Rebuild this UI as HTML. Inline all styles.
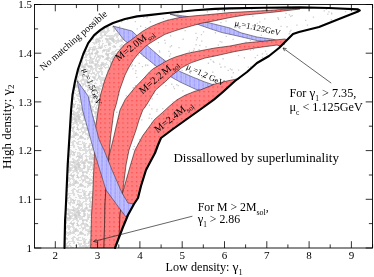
<!DOCTYPE html>
<html><head><meta charset="utf-8"><title>plot</title>
<style>
html,body{margin:0;padding:0;background:#fff;}
svg{display:block;font-family:"Liberation Serif",serif;will-change:transform;}
.tk{font-size:11px;}
.al{font-size:11.6px;}
text{fill:#000;}
</style></head><body>
<svg width="374" height="277" viewBox="0 0 374 277">
<rect width="374" height="277" fill="#fff"/>
<defs><pattern id="pg" width="48" height="48" patternUnits="userSpaceOnUse"><rect width="48" height="48" fill="#fbfbfb"/><path d="M0 0h6v1h-6zM12 0h3v1h-3zM24 0h2v1h-2zM29 0h5v1h-5zM35 0h3v1h-3zM41 0h2v1h-2zM44 0h4v1h-4zM0 1h1v1h-1zM7 1h8v1h-8zM20 1h7v1h-7zM35 1h3v1h-3zM40 1h8v1h-8zM0 2h2v1h-2zM6 2h8v1h-8zM19 2h2v1h-2zM25 2h2v1h-2zM29 2h2v1h-2zM35 2h3v1h-3zM40 2h2v1h-2zM44 2h3v1h-3zM0 3h3v1h-3zM6 3h3v1h-3zM10 3h4v1h-4zM16 3h4v1h-4zM21 3h2v1h-2zM25 3h2v1h-2zM30 3h4v1h-4zM35 3h7v1h-7zM44 3h1v1h-1zM0 4h3v1h-3zM6 4h1v1h-1zM10 4h1v1h-1zM15 4h4v1h-4zM21 4h1v1h-1zM30 4h4v1h-4zM36 4h2v1h-2zM41 4h1v1h-1zM43 4h2v1h-2zM47 4h1v1h-1zM0 5h2v1h-2zM9 5h14v1h-14zM27 5h2v1h-2zM31 5h2v1h-2zM34 5h5v1h-5zM40 5h5v1h-5zM46 5h2v1h-2zM0 6h2v1h-2zM9 6h4v1h-4zM15 6h6v1h-6zM22 6h2v1h-2zM31 6h14v1h-14zM47 6h1v1h-1zM1 7h6v1h-6zM10 7h3v1h-3zM17 7h3v1h-3zM22 7h4v1h-4zM27 7h1v1h-1zM37 7h3v1h-3zM41 7h2v1h-2zM47 7h1v1h-1zM1 8h7v1h-7zM11 8h2v1h-2zM16 8h5v1h-5zM22 8h6v1h-6zM29 8h3v1h-3zM37 8h2v1h-2zM41 8h2v1h-2zM46 8h2v1h-2zM0 9h5v1h-5zM6 9h2v1h-2zM10 9h4v1h-4zM15 9h5v1h-5zM22 9h2v1h-2zM25 9h2v1h-2zM29 9h4v1h-4zM35 9h4v1h-4zM41 9h3v1h-3zM46 9h1v1h-1zM0 10h1v1h-1zM3 10h2v1h-2zM9 10h9v1h-9zM20 10h7v1h-7zM29 10h1v1h-1zM31 10h2v1h-2zM34 10h2v1h-2zM42 10h5v1h-5zM0 11h1v1h-1zM2 11h2v1h-2zM8 11h5v1h-5zM14 11h4v1h-4zM20 11h3v1h-3zM24 11h3v1h-3zM29 11h6v1h-6zM37 11h2v1h-2zM41 11h5v1h-5zM47 11h1v1h-1zM0 12h4v1h-4zM11 12h4v1h-4zM21 12h2v1h-2zM28 12h7v1h-7zM37 12h8v1h-8zM47 12h1v1h-1zM0 13h3v1h-3zM13 13h4v1h-4zM22 13h1v1h-1zM28 13h1v1h-1zM30 13h5v1h-5zM38 13h1v1h-1zM41 13h5v1h-5zM47 13h1v1h-1zM1 14h2v1h-2zM5 14h3v1h-3zM10 14h1v1h-1zM14 14h4v1h-4zM24 14h2v1h-2zM30 14h5v1h-5zM38 14h1v1h-1zM41 14h5v1h-5zM0 15h2v1h-2zM5 15h6v1h-6zM14 15h4v1h-4zM24 15h3v1h-3zM29 15h3v1h-3zM34 15h1v1h-1zM37 15h3v1h-3zM41 15h7v1h-7zM0 16h3v1h-3zM4 16h8v1h-8zM14 16h3v1h-3zM18 16h3v1h-3zM25 16h7v1h-7zM33 16h2v1h-2zM36 16h4v1h-4zM46 16h2v1h-2zM0 17h10v1h-10zM12 17h1v1h-1zM14 17h17v1h-17zM32 17h12v1h-12zM46 17h2v1h-2zM0 18h6v1h-6zM7 18h2v1h-2zM12 18h1v1h-1zM16 18h22v1h-22zM39 18h6v1h-6zM47 18h1v1h-1zM0 19h2v1h-2zM4 19h3v1h-3zM8 19h6v1h-6zM16 19h2v1h-2zM20 19h3v1h-3zM25 19h7v1h-7zM33 19h5v1h-5zM40 19h5v1h-5zM47 19h1v1h-1zM0 20h1v1h-1zM2 20h5v1h-5zM9 20h1v1h-1zM12 20h7v1h-7zM20 20h5v1h-5zM26 20h7v1h-7zM35 20h2v1h-2zM42 20h6v1h-6zM0 21h1v1h-1zM3 21h3v1h-3zM12 21h21v1h-21zM35 21h3v1h-3zM39 21h1v1h-1zM42 21h4v1h-4zM47 21h1v1h-1zM0 22h1v1h-1zM4 22h2v1h-2zM11 22h6v1h-6zM18 22h4v1h-4zM24 22h8v1h-8zM35 22h3v1h-3zM39 22h4v1h-4zM44 22h1v1h-1zM47 22h1v1h-1zM0 23h7v1h-7zM11 23h5v1h-5zM20 23h13v1h-13zM35 23h3v1h-3zM39 23h4v1h-4zM44 23h1v1h-1zM1 24h3v1h-3zM5 24h2v1h-2zM12 24h4v1h-4zM18 24h1v1h-1zM21 24h4v1h-4zM26 24h11v1h-11zM39 24h3v1h-3zM44 24h3v1h-3zM0 25h3v1h-3zM5 25h2v1h-2zM17 25h7v1h-7zM26 25h9v1h-9zM39 25h8v1h-8zM0 26h1v1h-1zM2 26h1v1h-1zM5 26h2v1h-2zM10 26h2v1h-2zM16 26h14v1h-14zM31 26h4v1h-4zM39 26h2v1h-2zM43 26h1v1h-1zM46 26h2v1h-2zM0 27h1v1h-1zM2 27h2v1h-2zM10 27h3v1h-3zM16 27h7v1h-7zM25 27h5v1h-5zM31 27h10v1h-10zM47 27h1v1h-1zM2 28h3v1h-3zM10 28h3v1h-3zM17 28h5v1h-5zM24 28h2v1h-2zM28 28h3v1h-3zM34 28h6v1h-6zM42 28h1v1h-1zM44 28h4v1h-4zM2 29h7v1h-7zM11 29h2v1h-2zM17 29h2v1h-2zM23 29h1v1h-1zM29 29h2v1h-2zM34 29h2v1h-2zM38 29h2v1h-2zM44 29h4v1h-4zM1 30h8v1h-8zM11 30h3v1h-3zM17 30h2v1h-2zM22 30h2v1h-2zM25 30h2v1h-2zM29 30h1v1h-1zM34 30h2v1h-2zM41 30h1v1h-1zM45 30h3v1h-3zM0 31h2v1h-2zM3 31h10v1h-10zM17 31h2v1h-2zM21 31h6v1h-6zM28 31h2v1h-2zM33 31h6v1h-6zM46 31h2v1h-2zM0 32h2v1h-2zM4 32h8v1h-8zM23 32h3v1h-3zM29 32h2v1h-2zM32 32h8v1h-8zM43 32h4v1h-4zM4 33h2v1h-2zM8 33h3v1h-3zM19 33h3v1h-3zM24 33h2v1h-2zM28 33h6v1h-6zM36 33h5v1h-5zM44 33h1v1h-1zM4 34h2v1h-2zM8 34h2v1h-2zM18 34h8v1h-8zM30 34h1v1h-1zM33 34h1v1h-1zM36 34h7v1h-7zM44 34h1v1h-1zM47 34h1v1h-1zM0 35h1v1h-1zM4 35h19v1h-19zM24 35h3v1h-3zM33 35h5v1h-5zM41 35h3v1h-3zM46 35h2v1h-2zM5 36h2v1h-2zM10 36h9v1h-9zM20 36h2v1h-2zM25 36h4v1h-4zM31 36h2v1h-2zM34 36h4v1h-4zM41 36h4v1h-4zM3 37h4v1h-4zM13 37h5v1h-5zM20 37h2v1h-2zM25 37h5v1h-5zM34 37h2v1h-2zM37 37h5v1h-5zM44 37h2v1h-2zM0 38h6v1h-6zM9 38h9v1h-9zM22 38h1v1h-1zM25 38h6v1h-6zM34 38h1v1h-1zM37 38h9v1h-9zM0 39h4v1h-4zM9 39h10v1h-10zM21 39h2v1h-2zM24 39h7v1h-7zM32 39h2v1h-2zM39 39h7v1h-7zM47 39h1v1h-1zM0 40h5v1h-5zM6 40h1v1h-1zM10 40h3v1h-3zM15 40h12v1h-12zM31 40h4v1h-4zM40 40h3v1h-3zM47 40h1v1h-1zM0 41h5v1h-5zM6 41h1v1h-1zM10 41h4v1h-4zM16 41h11v1h-11zM31 41h5v1h-5zM39 41h4v1h-4zM47 41h1v1h-1zM0 42h4v1h-4zM10 42h5v1h-5zM17 42h2v1h-2zM20 42h3v1h-3zM27 42h1v1h-1zM30 42h8v1h-8zM39 42h2v1h-2zM44 42h4v1h-4zM0 43h1v1h-1zM3 43h1v1h-1zM6 43h2v1h-2zM12 43h4v1h-4zM19 43h2v1h-2zM29 43h2v1h-2zM36 43h2v1h-2zM39 43h1v1h-1zM45 43h3v1h-3zM2 44h2v1h-2zM6 44h1v1h-1zM12 44h3v1h-3zM25 44h2v1h-2zM46 44h1v1h-1zM3 45h1v1h-1zM5 45h2v1h-2zM8 45h3v1h-3zM12 45h3v1h-3zM17 45h2v1h-2zM24 45h4v1h-4zM30 45h3v1h-3zM34 45h1v1h-1zM2 46h5v1h-5zM8 46h1v1h-1zM16 46h4v1h-4zM23 46h3v1h-3zM28 46h3v1h-3zM34 46h3v1h-3zM45 46h3v1h-3zM2 47h5v1h-5zM9 47h1v1h-1zM13 47h2v1h-2zM17 47h3v1h-3zM24 47h2v1h-2zM28 47h3v1h-3zM34 47h5v1h-5zM41 47h7v1h-7z" fill="#dedede"/><path d="M4 0h1v1h-1zM36 1h1v1h-1zM41 1h1v1h-1zM44 1h1v1h-1zM45 1h1v1h-1zM46 1h1v1h-1zM7 2h1v1h-1zM8 2h1v1h-1zM12 2h1v1h-1zM36 2h1v1h-1zM40 2h1v1h-1zM41 2h1v1h-1zM1 3h1v1h-1zM12 3h1v1h-1zM40 3h1v1h-1zM0 4h1v1h-1zM1 4h1v1h-1zM0 5h1v1h-1zM10 5h1v1h-1zM41 5h1v1h-1zM43 5h1v1h-1zM44 5h1v1h-1zM47 5h1v1h-1zM10 6h1v1h-1zM11 6h1v1h-1zM12 6h1v1h-1zM19 6h1v1h-1zM11 7h1v1h-1zM12 7h1v1h-1zM24 7h1v1h-1zM2 8h1v1h-1zM6 8h1v1h-1zM7 8h1v1h-1zM17 8h1v1h-1zM25 8h1v1h-1zM26 8h1v1h-1zM11 9h1v1h-1zM12 9h1v1h-1zM16 9h1v1h-1zM17 9h1v1h-1zM25 9h1v1h-1zM42 9h1v1h-1zM10 10h1v1h-1zM11 10h1v1h-1zM12 10h1v1h-1zM16 10h1v1h-1zM22 10h1v1h-1zM26 10h1v1h-1zM42 10h1v1h-1zM10 11h1v1h-1zM11 11h1v1h-1zM29 12h1v1h-1zM30 12h1v1h-1zM31 12h1v1h-1zM33 12h1v1h-1zM1 13h1v1h-1zM14 13h1v1h-1zM31 13h1v1h-1zM32 13h1v1h-1zM44 13h1v1h-1zM1 14h1v1h-1zM14 14h1v1h-1zM15 14h1v1h-1zM41 14h1v1h-1zM43 14h1v1h-1zM44 14h1v1h-1zM6 15h1v1h-1zM14 15h1v1h-1zM15 15h1v1h-1zM38 15h1v1h-1zM0 16h1v1h-1zM5 16h1v1h-1zM6 16h1v1h-1zM7 16h1v1h-1zM14 16h1v1h-1zM15 16h1v1h-1zM29 16h1v1h-1zM37 16h1v1h-1zM38 16h1v1h-1zM47 16h1v1h-1zM5 17h1v1h-1zM16 17h1v1h-1zM20 17h1v1h-1zM25 17h1v1h-1zM47 17h1v1h-1zM16 18h1v1h-1zM17 18h1v1h-1zM24 18h1v1h-1zM25 18h1v1h-1zM26 18h1v1h-1zM30 18h1v1h-1zM34 18h1v1h-1zM35 18h1v1h-1zM36 18h1v1h-1zM40 18h1v1h-1zM41 18h1v1h-1zM42 18h1v1h-1zM43 18h1v1h-1zM29 19h1v1h-1zM30 19h1v1h-1zM35 19h1v1h-1zM36 19h1v1h-1zM43 19h1v1h-1zM3 20h1v1h-1zM4 20h1v1h-1zM5 20h1v1h-1zM17 20h1v1h-1zM28 20h1v1h-1zM29 20h1v1h-1zM30 20h1v1h-1zM31 20h1v1h-1zM17 21h1v1h-1zM18 21h1v1h-1zM20 21h1v1h-1zM30 21h1v1h-1zM31 21h1v1h-1zM36 21h1v1h-1zM20 22h1v1h-1zM26 22h1v1h-1zM27 22h1v1h-1zM30 22h1v1h-1zM31 22h1v1h-1zM36 22h1v1h-1zM12 23h1v1h-1zM13 23h1v1h-1zM21 23h1v1h-1zM26 23h1v1h-1zM27 23h1v1h-1zM28 23h1v1h-1zM30 23h1v1h-1zM31 23h1v1h-1zM36 23h1v1h-1zM21 24h1v1h-1zM22 24h1v1h-1zM27 24h1v1h-1zM28 24h1v1h-1zM35 24h1v1h-1zM36 24h1v1h-1zM18 25h1v1h-1zM21 25h1v1h-1zM22 25h1v1h-1zM27 25h1v1h-1zM28 25h1v1h-1zM40 25h1v1h-1zM45 25h1v1h-1zM19 26h1v1h-1zM20 26h1v1h-1zM21 26h1v1h-1zM22 26h1v1h-1zM28 26h1v1h-1zM10 27h1v1h-1zM11 27h1v1h-1zM3 28h1v1h-1zM34 28h1v1h-1zM35 28h1v1h-1zM38 28h1v1h-1zM2 29h1v1h-1zM45 29h1v1h-1zM46 29h1v1h-1zM18 30h1v1h-1zM46 30h1v1h-1zM22 31h1v1h-1zM23 31h1v1h-1zM24 31h1v1h-1zM25 31h1v1h-1zM29 31h1v1h-1zM34 31h1v1h-1zM35 31h1v1h-1zM24 32h1v1h-1zM25 32h1v1h-1zM29 32h1v1h-1zM38 32h1v1h-1zM39 32h1v1h-1zM29 33h1v1h-1zM30 33h1v1h-1zM39 33h1v1h-1zM8 34h1v1h-1zM9 34h1v1h-1zM35 36h1v1h-1zM27 37h1v1h-1zM28 37h1v1h-1zM9 38h1v1h-1zM10 38h1v1h-1zM13 38h1v1h-1zM14 38h1v1h-1zM15 38h1v1h-1zM16 38h1v1h-1zM17 38h1v1h-1zM27 38h1v1h-1zM28 38h1v1h-1zM44 38h1v1h-1zM0 39h1v1h-1zM1 39h1v1h-1zM2 39h1v1h-1zM10 39h1v1h-1zM11 39h1v1h-1zM14 39h1v1h-1zM15 39h1v1h-1zM16 39h1v1h-1zM17 39h1v1h-1zM26 39h1v1h-1zM27 39h1v1h-1zM40 39h1v1h-1zM41 39h1v1h-1zM42 39h1v1h-1zM43 39h1v1h-1zM2 40h1v1h-1zM3 40h1v1h-1zM11 40h1v1h-1zM16 40h1v1h-1zM17 40h1v1h-1zM22 40h1v1h-1zM25 40h1v1h-1zM32 40h1v1h-1zM33 40h1v1h-1zM0 41h1v1h-1zM2 41h1v1h-1zM17 41h1v1h-1zM32 41h1v1h-1zM33 41h1v1h-1zM34 41h1v1h-1zM0 42h1v1h-1zM12 43h1v1h-1zM13 43h1v1h-1zM12 44h1v1h-1zM13 44h1v1h-1zM18 46h1v1h-1zM19 46h1v1h-1zM3 47h1v1h-1zM4 47h1v1h-1zM5 47h1v1h-1z" fill="#d0d0d0"/></pattern><clipPath id="cr"><polygon points="64.5,248.0 65.1,220.0 65.7,210.0 67.7,165.0 71.1,110.0 72.5,95.0 75.1,81.0 78.1,69.0 83.3,54.0 88.2,43.1 94.2,35.1 100.2,30.1 105.0,27.0 113.0,23.0 125.0,19.0 137.0,16.4 151.0,14.9 165.0,13.3 180.0,11.7 195.0,10.3 215.0,8.9 230.0,8.4 265.0,7.8 300.0,7.4 329.0,8.0 358.0,9.4 359.8,10.4 358.0,11.6 339.0,19.0 319.0,27.0 299.0,32.0 293.0,34.0 287.0,40.0 279.0,48.0 269.0,56.0 257.0,63.0 247.0,72.0 235.0,81.0 222.6,92.2 214.2,99.4 201.0,109.0 187.0,119.0 173.0,129.0 161.0,138.0 158.0,145.0 155.0,153.0 150.2,162.0 146.0,170.0 141.0,186.0 138.0,198.0 134.0,204.0 128.0,215.0 123.0,227.0 118.0,240.0 115.0,248.0"/></clipPath><clipPath id="cd"><polygon points="64.5,248.0 65.1,220.0 65.7,210.0 67.7,165.0 71.1,110.0 72.5,95.0 75.1,81.0 78.1,69.0 83.3,54.0 88.2,43.1 94.2,35.1 100.2,30.1 105.0,27.0 113.0,23.0 113.0,26.0 124.0,40.0 124.5,44.6 118.3,51.8 113.5,59.0 110.6,66.0 107.5,73.0 104.5,81.0 100.5,95.0 98.2,110.0 95.2,130.0 94.5,150.0 94.0,165.0 92.5,200.0 91.5,215.0 90.6,248.0"/></clipPath><pattern id="pr" width="4.5" height="4.5" patternUnits="userSpaceOnUse"><rect width="4.5" height="4.5" fill="#ff8080"/><rect x="1" y="1" width="1.15" height="1.15" fill="#ff3434"/></pattern><pattern id="pb" width="4.4" height="4" patternUnits="userSpaceOnUse"><rect width="4.4" height="4" fill="#c2c2ff"/><rect x="0.4" y="0" width="0.9" height="4" fill="#b0b0ff"/><rect x="2.6" y="0" width="0.9" height="4" fill="#b4b4ff"/><rect x="0.4" y="0.5" width="0.9" height="1" fill="#6a6aff"/><rect x="0.4" y="2.5" width="0.9" height="1" fill="#8484ff"/></pattern></defs><g clip-path="url(#cr)"><path d="M157.8 42.0h1.3v1.3h-1.3zM256.6 22.7h1.3v1.3h-1.3zM221.8 94.6h1.3v1.3h-1.3zM77.5 129.3h1.3v1.3h-1.3zM71.3 111.2h1.3v1.3h-1.3zM81.1 27.2h1.3v1.3h-1.3zM188.2 207.6h1.3v1.3h-1.3zM97.4 59.7h1.3v1.3h-1.3zM249.5 237.2h1.3v1.3h-1.3zM234.3 102.2h1.3v1.3h-1.3zM354.8 16.4h1.3v1.3h-1.3zM319.3 76.0h1.3v1.3h-1.3zM103.6 33.9h1.3v1.3h-1.3zM153.2 205.0h1.3v1.3h-1.3zM114.6 147.5h1.3v1.3h-1.3zM253.0 96.2h1.3v1.3h-1.3zM225.4 20.4h1.3v1.3h-1.3zM78.0 55.5h1.3v1.3h-1.3zM265.5 109.8h1.3v1.3h-1.3zM154.9 148.5h1.3v1.3h-1.3zM196.9 78.4h1.3v1.3h-1.3zM299.9 176.3h1.3v1.3h-1.3zM133.7 145.7h1.3v1.3h-1.3zM218.6 219.4h1.3v1.3h-1.3zM280.3 75.5h1.3v1.3h-1.3zM356.0 33.9h1.3v1.3h-1.3zM186.3 190.5h1.3v1.3h-1.3zM105.9 124.8h1.3v1.3h-1.3zM71.8 168.7h1.3v1.3h-1.3zM290.9 145.4h1.3v1.3h-1.3zM324.4 81.9h1.3v1.3h-1.3zM270.0 150.6h1.3v1.3h-1.3zM235.1 116.8h1.3v1.3h-1.3zM313.7 236.4h1.3v1.3h-1.3zM203.2 167.7h1.3v1.3h-1.3zM78.3 176.9h1.3v1.3h-1.3zM255.4 248.3h1.3v1.3h-1.3zM308.2 74.7h1.3v1.3h-1.3zM176.5 168.8h1.3v1.3h-1.3zM66.8 118.1h1.3v1.3h-1.3zM110.8 33.7h1.3v1.3h-1.3zM77.8 193.2h1.3v1.3h-1.3zM99.1 65.7h1.3v1.3h-1.3zM178.1 218.5h1.3v1.3h-1.3zM84.3 115.1h1.3v1.3h-1.3zM225.9 221.4h1.3v1.3h-1.3zM307.4 216.7h1.3v1.3h-1.3zM144.1 106.7h1.3v1.3h-1.3zM168.3 221.6h1.3v1.3h-1.3zM349.2 42.0h1.3v1.3h-1.3zM113.2 61.8h1.3v1.3h-1.3zM130.5 123.8h1.3v1.3h-1.3zM237.9 69.4h1.3v1.3h-1.3zM61.2 107.6h1.3v1.3h-1.3zM171.5 143.8h1.3v1.3h-1.3zM347.8 174.2h1.3v1.3h-1.3zM215.7 156.3h1.3v1.3h-1.3zM264.2 18.2h1.3v1.3h-1.3zM331.7 196.1h1.3v1.3h-1.3zM324.1 200.5h1.3v1.3h-1.3zM178.5 102.7h1.3v1.3h-1.3zM91.3 160.4h1.3v1.3h-1.3zM78.8 21.5h1.3v1.3h-1.3zM123.0 44.8h1.3v1.3h-1.3zM162.7 17.9h1.3v1.3h-1.3zM60.1 42.1h1.3v1.3h-1.3zM90.6 94.1h1.3v1.3h-1.3zM67.7 219.2h1.3v1.3h-1.3zM245.4 41.4h1.3v1.3h-1.3zM136.2 90.1h1.3v1.3h-1.3zM170.0 35.1h1.3v1.3h-1.3zM316.4 248.3h1.3v1.3h-1.3zM200.7 123.5h1.3v1.3h-1.3zM85.9 30.0h1.3v1.3h-1.3zM163.5 69.9h1.3v1.3h-1.3zM310.3 44.6h1.3v1.3h-1.3zM67.0 238.0h1.3v1.3h-1.3zM219.5 40.9h1.3v1.3h-1.3zM224.0 11.6h1.3v1.3h-1.3zM219.5 244.7h1.3v1.3h-1.3zM320.7 175.6h1.3v1.3h-1.3zM138.9 94.8h1.3v1.3h-1.3zM110.4 194.1h1.3v1.3h-1.3zM220.8 195.9h1.3v1.3h-1.3zM159.6 59.6h1.3v1.3h-1.3zM305.1 246.3h1.3v1.3h-1.3zM317.5 202.5h1.3v1.3h-1.3zM307.1 186.3h1.3v1.3h-1.3zM128.5 131.8h1.3v1.3h-1.3zM167.4 12.1h1.3v1.3h-1.3zM68.4 73.5h1.3v1.3h-1.3zM138.3 174.7h1.3v1.3h-1.3zM348.9 114.6h1.3v1.3h-1.3zM343.0 247.1h1.3v1.3h-1.3zM348.4 94.3h1.3v1.3h-1.3zM126.6 60.6h1.3v1.3h-1.3zM119.4 55.1h1.3v1.3h-1.3zM248.5 225.6h1.3v1.3h-1.3zM313.8 122.5h1.3v1.3h-1.3zM257.2 200.9h1.3v1.3h-1.3zM85.6 166.8h1.3v1.3h-1.3zM334.8 196.7h1.3v1.3h-1.3zM286.5 122.1h1.3v1.3h-1.3zM113.9 198.3h1.3v1.3h-1.3zM160.4 201.2h1.3v1.3h-1.3zM353.4 102.0h1.3v1.3h-1.3zM181.2 237.0h1.3v1.3h-1.3zM278.9 46.7h1.3v1.3h-1.3zM98.4 42.0h1.3v1.3h-1.3zM333.3 202.6h1.3v1.3h-1.3zM104.1 207.5h1.3v1.3h-1.3zM356.1 166.0h1.3v1.3h-1.3zM165.8 139.4h1.3v1.3h-1.3zM99.6 8.5h1.3v1.3h-1.3zM353.2 164.2h1.3v1.3h-1.3zM219.0 233.7h1.3v1.3h-1.3zM191.0 218.6h1.3v1.3h-1.3zM309.5 56.7h1.3v1.3h-1.3zM136.1 76.8h1.3v1.3h-1.3zM132.6 148.7h1.3v1.3h-1.3zM138.3 107.7h1.3v1.3h-1.3zM99.6 228.0h1.3v1.3h-1.3zM166.8 117.2h1.3v1.3h-1.3zM236.2 226.6h1.3v1.3h-1.3zM187.0 229.8h1.3v1.3h-1.3zM211.5 135.3h1.3v1.3h-1.3zM218.1 9.6h1.3v1.3h-1.3zM192.9 49.9h1.3v1.3h-1.3zM61.2 200.8h1.3v1.3h-1.3zM112.0 121.0h1.3v1.3h-1.3zM279.0 141.3h1.3v1.3h-1.3zM158.4 132.0h1.3v1.3h-1.3zM227.7 197.1h1.3v1.3h-1.3zM92.0 142.3h1.3v1.3h-1.3zM135.0 72.8h1.3v1.3h-1.3zM293.2 129.4h1.3v1.3h-1.3zM229.6 191.2h1.3v1.3h-1.3zM335.6 113.6h1.3v1.3h-1.3zM245.0 128.9h1.3v1.3h-1.3zM214.7 174.7h1.3v1.3h-1.3zM196.6 135.7h1.3v1.3h-1.3zM204.4 235.7h1.3v1.3h-1.3zM271.2 219.8h1.3v1.3h-1.3zM344.5 68.6h1.3v1.3h-1.3zM229.0 236.1h1.3v1.3h-1.3zM313.7 38.6h1.3v1.3h-1.3zM96.7 113.3h1.3v1.3h-1.3zM81.9 64.0h1.3v1.3h-1.3zM82.1 169.0h1.3v1.3h-1.3zM296.7 224.8h1.3v1.3h-1.3zM106.6 180.4h1.3v1.3h-1.3zM259.4 40.0h1.3v1.3h-1.3zM326.6 242.0h1.3v1.3h-1.3zM126.3 238.4h1.3v1.3h-1.3zM180.3 124.4h1.3v1.3h-1.3zM358.9 208.9h1.3v1.3h-1.3zM108.8 110.7h1.3v1.3h-1.3zM215.7 88.1h1.3v1.3h-1.3zM119.1 83.0h1.3v1.3h-1.3zM278.1 9.8h1.3v1.3h-1.3zM227.3 112.9h1.3v1.3h-1.3zM65.5 86.2h1.3v1.3h-1.3zM248.4 130.5h1.3v1.3h-1.3zM79.4 246.3h1.3v1.3h-1.3zM298.1 243.1h1.3v1.3h-1.3zM91.6 70.1h1.3v1.3h-1.3zM72.0 195.9h1.3v1.3h-1.3zM141.7 36.7h1.3v1.3h-1.3zM187.5 228.3h1.3v1.3h-1.3zM307.3 68.4h1.3v1.3h-1.3zM105.1 230.2h1.3v1.3h-1.3zM232.3 176.6h1.3v1.3h-1.3zM87.0 19.1h1.3v1.3h-1.3zM267.8 109.2h1.3v1.3h-1.3zM81.9 234.9h1.3v1.3h-1.3zM251.6 201.4h1.3v1.3h-1.3zM85.3 214.8h1.3v1.3h-1.3zM80.1 216.4h1.3v1.3h-1.3zM197.0 88.1h1.3v1.3h-1.3zM227.0 232.0h1.3v1.3h-1.3zM140.9 36.7h1.3v1.3h-1.3zM219.1 63.4h1.3v1.3h-1.3zM93.1 44.6h1.3v1.3h-1.3zM75.2 54.4h1.3v1.3h-1.3zM154.2 79.7h1.3v1.3h-1.3zM289.4 76.0h1.3v1.3h-1.3zM211.0 48.6h1.3v1.3h-1.3zM164.8 9.4h1.3v1.3h-1.3zM135.6 8.8h1.3v1.3h-1.3zM281.4 140.0h1.3v1.3h-1.3zM117.2 121.3h1.3v1.3h-1.3zM342.3 31.0h1.3v1.3h-1.3zM307.3 110.9h1.3v1.3h-1.3zM209.5 209.5h1.3v1.3h-1.3zM178.7 129.1h1.3v1.3h-1.3zM267.7 245.7h1.3v1.3h-1.3zM163.5 208.9h1.3v1.3h-1.3zM273.4 160.8h1.3v1.3h-1.3zM182.2 90.2h1.3v1.3h-1.3zM76.4 36.8h1.3v1.3h-1.3zM81.4 186.5h1.3v1.3h-1.3zM137.2 45.0h1.3v1.3h-1.3zM85.5 211.1h1.3v1.3h-1.3zM322.9 169.3h1.3v1.3h-1.3zM145.1 64.3h1.3v1.3h-1.3zM148.5 117.6h1.3v1.3h-1.3zM107.6 114.2h1.3v1.3h-1.3zM139.5 240.6h1.3v1.3h-1.3zM353.7 139.0h1.3v1.3h-1.3zM133.8 241.6h1.3v1.3h-1.3zM153.5 92.4h1.3v1.3h-1.3zM60.3 98.5h1.3v1.3h-1.3zM203.3 128.2h1.3v1.3h-1.3zM120.7 128.7h1.3v1.3h-1.3zM61.5 69.7h1.3v1.3h-1.3zM87.1 102.9h1.3v1.3h-1.3zM72.6 10.5h1.3v1.3h-1.3zM151.9 62.0h1.3v1.3h-1.3zM236.8 134.7h1.3v1.3h-1.3zM286.7 166.1h1.3v1.3h-1.3zM276.2 220.4h1.3v1.3h-1.3zM177.6 84.9h1.3v1.3h-1.3zM357.4 41.6h1.3v1.3h-1.3zM278.7 162.6h1.3v1.3h-1.3zM73.2 209.6h1.3v1.3h-1.3zM329.4 158.7h1.3v1.3h-1.3zM281.6 204.0h1.3v1.3h-1.3zM102.1 133.3h1.3v1.3h-1.3zM212.3 209.6h1.3v1.3h-1.3zM303.0 207.5h1.3v1.3h-1.3zM236.4 223.7h1.3v1.3h-1.3zM266.2 174.9h1.3v1.3h-1.3zM129.4 12.6h1.3v1.3h-1.3zM100.2 93.4h1.3v1.3h-1.3zM91.7 209.8h1.3v1.3h-1.3zM228.7 158.8h1.3v1.3h-1.3zM249.1 171.8h1.3v1.3h-1.3zM207.8 5.8h1.3v1.3h-1.3zM300.9 188.3h1.3v1.3h-1.3zM211.9 136.1h1.3v1.3h-1.3zM259.1 21.2h1.3v1.3h-1.3zM282.5 66.8h1.3v1.3h-1.3zM82.5 70.1h1.3v1.3h-1.3zM280.3 55.3h1.3v1.3h-1.3zM283.4 244.1h1.3v1.3h-1.3zM209.2 98.7h1.3v1.3h-1.3zM204.7 172.5h1.3v1.3h-1.3zM291.6 156.2h1.3v1.3h-1.3zM254.1 24.0h1.3v1.3h-1.3zM104.5 67.2h1.3v1.3h-1.3zM284.5 79.6h1.3v1.3h-1.3zM231.5 8.1h1.3v1.3h-1.3zM78.3 70.8h1.3v1.3h-1.3zM262.9 174.6h1.3v1.3h-1.3zM264.1 76.3h1.3v1.3h-1.3zM216.0 118.8h1.3v1.3h-1.3zM200.8 34.0h1.3v1.3h-1.3zM329.9 53.8h1.3v1.3h-1.3zM355.4 234.4h1.3v1.3h-1.3zM65.3 117.4h1.3v1.3h-1.3zM307.6 242.2h1.3v1.3h-1.3zM195.7 70.8h1.3v1.3h-1.3zM123.4 236.7h1.3v1.3h-1.3zM123.6 147.5h1.3v1.3h-1.3zM102.8 133.4h1.3v1.3h-1.3zM347.7 37.5h1.3v1.3h-1.3zM307.7 129.6h1.3v1.3h-1.3zM327.8 177.3h1.3v1.3h-1.3zM129.9 224.9h1.3v1.3h-1.3zM206.8 11.1h1.3v1.3h-1.3zM61.1 125.5h1.3v1.3h-1.3zM196.1 79.0h1.3v1.3h-1.3zM102.5 89.3h1.3v1.3h-1.3zM155.5 210.9h1.3v1.3h-1.3zM60.5 188.9h1.3v1.3h-1.3zM313.4 34.4h1.3v1.3h-1.3zM339.8 179.7h1.3v1.3h-1.3zM332.3 76.0h1.3v1.3h-1.3zM172.4 101.3h1.3v1.3h-1.3zM361.6 149.3h1.3v1.3h-1.3zM168.9 109.9h1.3v1.3h-1.3zM143.1 16.8h1.3v1.3h-1.3zM90.7 209.5h1.3v1.3h-1.3zM146.3 234.2h1.3v1.3h-1.3zM135.3 70.1h1.3v1.3h-1.3zM214.3 51.5h1.3v1.3h-1.3zM172.8 239.3h1.3v1.3h-1.3zM327.0 203.9h1.3v1.3h-1.3zM250.5 228.8h1.3v1.3h-1.3zM344.1 139.6h1.3v1.3h-1.3zM277.3 17.1h1.3v1.3h-1.3zM281.2 115.5h1.3v1.3h-1.3zM287.3 162.9h1.3v1.3h-1.3zM146.4 17.0h1.3v1.3h-1.3zM339.9 36.2h1.3v1.3h-1.3zM202.6 89.2h1.3v1.3h-1.3zM149.9 186.1h1.3v1.3h-1.3zM354.8 68.7h1.3v1.3h-1.3zM258.1 78.7h1.3v1.3h-1.3zM228.3 101.6h1.3v1.3h-1.3zM110.5 44.6h1.3v1.3h-1.3zM122.8 227.0h1.3v1.3h-1.3zM210.1 58.9h1.3v1.3h-1.3zM333.7 249.1h1.3v1.3h-1.3zM195.9 39.2h1.3v1.3h-1.3zM118.1 27.2h1.3v1.3h-1.3zM163.3 27.3h1.3v1.3h-1.3zM132.2 68.3h1.3v1.3h-1.3zM232.0 222.4h1.3v1.3h-1.3zM286.4 106.1h1.3v1.3h-1.3zM185.0 133.4h1.3v1.3h-1.3zM173.8 87.9h1.3v1.3h-1.3zM78.7 73.0h1.3v1.3h-1.3zM352.2 35.8h1.3v1.3h-1.3zM212.0 159.3h1.3v1.3h-1.3zM320.6 57.9h1.3v1.3h-1.3zM141.8 65.9h1.3v1.3h-1.3zM180.7 114.2h1.3v1.3h-1.3zM348.1 212.9h1.3v1.3h-1.3zM323.6 10.3h1.3v1.3h-1.3zM69.7 178.8h1.3v1.3h-1.3zM330.5 121.0h1.3v1.3h-1.3zM237.3 5.0h1.3v1.3h-1.3zM178.2 232.1h1.3v1.3h-1.3zM309.3 214.6h1.3v1.3h-1.3zM353.6 65.9h1.3v1.3h-1.3zM92.9 42.8h1.3v1.3h-1.3zM217.8 172.1h1.3v1.3h-1.3zM344.3 181.8h1.3v1.3h-1.3zM255.5 192.4h1.3v1.3h-1.3zM198.1 140.1h1.3v1.3h-1.3zM71.9 196.7h1.3v1.3h-1.3zM130.2 230.4h1.3v1.3h-1.3zM254.9 79.4h1.3v1.3h-1.3zM98.6 66.7h1.3v1.3h-1.3zM252.2 176.2h1.3v1.3h-1.3zM93.9 22.2h1.3v1.3h-1.3zM218.4 147.8h1.3v1.3h-1.3zM177.2 59.8h1.3v1.3h-1.3zM241.5 7.6h1.3v1.3h-1.3zM151.1 117.9h1.3v1.3h-1.3zM349.6 162.9h1.3v1.3h-1.3zM326.9 121.4h1.3v1.3h-1.3zM130.9 65.5h1.3v1.3h-1.3zM350.1 177.6h1.3v1.3h-1.3zM152.8 10.3h1.3v1.3h-1.3zM210.5 170.2h1.3v1.3h-1.3zM186.8 68.0h1.3v1.3h-1.3zM261.5 231.7h1.3v1.3h-1.3zM128.5 13.4h1.3v1.3h-1.3zM162.1 108.0h1.3v1.3h-1.3zM266.1 53.5h1.3v1.3h-1.3zM300.7 186.1h1.3v1.3h-1.3zM212.5 55.3h1.3v1.3h-1.3zM352.9 81.4h1.3v1.3h-1.3zM307.6 61.5h1.3v1.3h-1.3zM126.9 191.3h1.3v1.3h-1.3zM149.1 238.2h1.3v1.3h-1.3zM209.7 50.9h1.3v1.3h-1.3zM127.4 107.2h1.3v1.3h-1.3zM260.9 237.4h1.3v1.3h-1.3zM104.2 101.4h1.3v1.3h-1.3zM124.3 243.7h1.3v1.3h-1.3zM102.9 17.7h1.3v1.3h-1.3zM78.2 101.4h1.3v1.3h-1.3zM331.2 221.5h1.3v1.3h-1.3zM281.3 249.4h1.3v1.3h-1.3zM341.3 85.7h1.3v1.3h-1.3zM116.0 234.3h1.3v1.3h-1.3zM285.4 12.8h1.3v1.3h-1.3zM260.7 97.8h1.3v1.3h-1.3zM172.9 86.3h1.3v1.3h-1.3zM111.1 5.7h1.3v1.3h-1.3zM144.5 91.1h1.3v1.3h-1.3zM348.6 35.3h1.3v1.3h-1.3zM351.2 55.8h1.3v1.3h-1.3zM167.7 206.3h1.3v1.3h-1.3zM308.2 111.0h1.3v1.3h-1.3zM74.9 121.0h1.3v1.3h-1.3zM172.6 230.3h1.3v1.3h-1.3zM118.3 94.2h1.3v1.3h-1.3zM330.9 12.4h1.3v1.3h-1.3zM184.1 203.9h1.3v1.3h-1.3zM291.5 15.0h1.3v1.3h-1.3zM70.5 20.3h1.3v1.3h-1.3zM337.9 68.0h1.3v1.3h-1.3zM285.7 225.1h1.3v1.3h-1.3zM162.4 71.7h1.3v1.3h-1.3zM349.2 156.2h1.3v1.3h-1.3zM139.2 180.6h1.3v1.3h-1.3zM155.6 72.5h1.3v1.3h-1.3zM61.1 190.1h1.3v1.3h-1.3zM336.8 160.3h1.3v1.3h-1.3zM344.9 10.9h1.3v1.3h-1.3zM130.6 121.4h1.3v1.3h-1.3zM348.9 238.7h1.3v1.3h-1.3zM176.7 66.5h1.3v1.3h-1.3zM189.8 125.9h1.3v1.3h-1.3zM340.3 49.8h1.3v1.3h-1.3zM302.4 185.9h1.3v1.3h-1.3zM308.5 194.3h1.3v1.3h-1.3zM243.4 85.3h1.3v1.3h-1.3zM156.5 93.7h1.3v1.3h-1.3zM296.2 24.4h1.3v1.3h-1.3zM119.6 189.5h1.3v1.3h-1.3zM134.7 20.9h1.3v1.3h-1.3zM70.2 140.4h1.3v1.3h-1.3zM158.4 245.2h1.3v1.3h-1.3zM326.8 247.0h1.3v1.3h-1.3zM140.0 25.6h1.3v1.3h-1.3zM89.1 127.1h1.3v1.3h-1.3zM274.4 114.5h1.3v1.3h-1.3zM130.7 107.1h1.3v1.3h-1.3zM247.3 170.2h1.3v1.3h-1.3zM285.9 212.5h1.3v1.3h-1.3zM260.7 34.7h1.3v1.3h-1.3zM313.9 77.0h1.3v1.3h-1.3zM231.2 96.4h1.3v1.3h-1.3zM282.9 53.8h1.3v1.3h-1.3zM134.7 65.1h1.3v1.3h-1.3zM106.3 221.6h1.3v1.3h-1.3zM234.6 85.0h1.3v1.3h-1.3zM179.6 248.1h1.3v1.3h-1.3zM213.2 61.7h1.3v1.3h-1.3zM304.1 165.1h1.3v1.3h-1.3zM359.3 30.1h1.3v1.3h-1.3zM203.4 205.7h1.3v1.3h-1.3zM313.8 229.0h1.3v1.3h-1.3zM72.2 77.0h1.3v1.3h-1.3zM96.0 51.4h1.3v1.3h-1.3zM353.8 147.9h1.3v1.3h-1.3zM340.9 96.2h1.3v1.3h-1.3zM321.6 115.0h1.3v1.3h-1.3zM138.5 195.6h1.3v1.3h-1.3zM345.6 30.9h1.3v1.3h-1.3zM240.0 156.9h1.3v1.3h-1.3zM125.7 95.3h1.3v1.3h-1.3zM102.7 55.0h1.3v1.3h-1.3zM137.0 151.9h1.3v1.3h-1.3zM256.8 54.8h1.3v1.3h-1.3zM63.4 85.2h1.3v1.3h-1.3zM264.9 50.4h1.3v1.3h-1.3zM154.3 54.8h1.3v1.3h-1.3zM300.2 139.3h1.3v1.3h-1.3zM79.1 29.8h1.3v1.3h-1.3zM179.4 139.8h1.3v1.3h-1.3zM253.0 27.3h1.3v1.3h-1.3zM109.4 175.4h1.3v1.3h-1.3zM183.8 74.4h1.3v1.3h-1.3zM152.9 238.5h1.3v1.3h-1.3zM154.3 143.8h1.3v1.3h-1.3zM167.9 107.0h1.3v1.3h-1.3zM321.0 249.2h1.3v1.3h-1.3zM169.9 53.3h1.3v1.3h-1.3zM279.9 54.9h1.3v1.3h-1.3zM61.8 225.9h1.3v1.3h-1.3zM188.0 206.0h1.3v1.3h-1.3zM182.7 221.3h1.3v1.3h-1.3zM199.2 44.8h1.3v1.3h-1.3zM64.5 140.1h1.3v1.3h-1.3zM253.5 227.9h1.3v1.3h-1.3zM86.9 157.4h1.3v1.3h-1.3zM172.0 128.6h1.3v1.3h-1.3zM104.1 74.4h1.3v1.3h-1.3zM217.4 231.7h1.3v1.3h-1.3zM92.9 125.2h1.3v1.3h-1.3zM303.1 241.9h1.3v1.3h-1.3zM119.6 36.0h1.3v1.3h-1.3zM344.8 244.0h1.3v1.3h-1.3zM205.8 18.1h1.3v1.3h-1.3zM339.7 100.0h1.3v1.3h-1.3zM333.1 157.0h1.3v1.3h-1.3zM309.0 44.3h1.3v1.3h-1.3zM297.3 59.4h1.3v1.3h-1.3zM182.2 212.4h1.3v1.3h-1.3zM310.4 49.8h1.3v1.3h-1.3zM125.9 102.9h1.3v1.3h-1.3zM216.4 99.0h1.3v1.3h-1.3zM97.2 65.5h1.3v1.3h-1.3zM278.9 224.8h1.3v1.3h-1.3zM72.4 142.8h1.3v1.3h-1.3zM288.8 14.3h1.3v1.3h-1.3zM313.1 33.8h1.3v1.3h-1.3zM241.1 139.8h1.3v1.3h-1.3zM249.4 80.0h1.3v1.3h-1.3zM186.9 147.7h1.3v1.3h-1.3zM188.6 166.4h1.3v1.3h-1.3zM194.9 112.4h1.3v1.3h-1.3zM67.1 156.6h1.3v1.3h-1.3zM207.8 62.6h1.3v1.3h-1.3zM290.6 196.1h1.3v1.3h-1.3zM198.4 49.0h1.3v1.3h-1.3zM202.9 31.2h1.3v1.3h-1.3zM98.8 110.5h1.3v1.3h-1.3zM87.7 113.3h1.3v1.3h-1.3zM214.1 15.0h1.3v1.3h-1.3zM252.2 25.1h1.3v1.3h-1.3zM281.5 195.5h1.3v1.3h-1.3zM214.5 18.3h1.3v1.3h-1.3zM212.2 97.6h1.3v1.3h-1.3zM347.2 38.4h1.3v1.3h-1.3zM318.8 249.1h1.3v1.3h-1.3zM281.1 204.7h1.3v1.3h-1.3zM118.5 245.5h1.3v1.3h-1.3zM208.5 239.4h1.3v1.3h-1.3zM336.6 45.5h1.3v1.3h-1.3zM298.1 233.0h1.3v1.3h-1.3zM79.8 91.0h1.3v1.3h-1.3zM288.4 43.9h1.3v1.3h-1.3zM330.8 72.4h1.3v1.3h-1.3zM306.3 40.2h1.3v1.3h-1.3zM211.7 230.4h1.3v1.3h-1.3zM122.9 69.4h1.3v1.3h-1.3zM212.8 83.2h1.3v1.3h-1.3zM71.1 49.6h1.3v1.3h-1.3zM108.7 234.4h1.3v1.3h-1.3zM265.3 224.4h1.3v1.3h-1.3zM111.0 197.3h1.3v1.3h-1.3zM94.8 135.0h1.3v1.3h-1.3zM252.2 93.1h1.3v1.3h-1.3zM323.6 141.0h1.3v1.3h-1.3zM235.2 221.2h1.3v1.3h-1.3zM91.6 248.3h1.3v1.3h-1.3zM250.2 101.6h1.3v1.3h-1.3zM300.9 69.9h1.3v1.3h-1.3zM359.1 146.5h1.3v1.3h-1.3zM168.8 192.3h1.3v1.3h-1.3zM193.6 48.3h1.3v1.3h-1.3zM284.6 16.8h1.3v1.3h-1.3zM307.6 67.1h1.3v1.3h-1.3zM253.0 246.1h1.3v1.3h-1.3zM236.9 167.6h1.3v1.3h-1.3zM154.4 5.4h1.3v1.3h-1.3zM70.2 41.6h1.3v1.3h-1.3zM246.0 110.9h1.3v1.3h-1.3zM214.8 224.4h1.3v1.3h-1.3zM99.9 60.7h1.3v1.3h-1.3zM257.2 10.5h1.3v1.3h-1.3zM60.8 92.0h1.3v1.3h-1.3zM92.1 92.5h1.3v1.3h-1.3zM127.7 148.0h1.3v1.3h-1.3zM237.9 55.0h1.3v1.3h-1.3zM248.4 121.4h1.3v1.3h-1.3zM100.7 234.5h1.3v1.3h-1.3zM133.6 41.6h1.3v1.3h-1.3zM88.9 161.4h1.3v1.3h-1.3zM323.1 196.6h1.3v1.3h-1.3zM181.4 69.7h1.3v1.3h-1.3zM63.5 163.0h1.3v1.3h-1.3zM229.8 90.8h1.3v1.3h-1.3zM255.0 113.7h1.3v1.3h-1.3zM343.0 184.7h1.3v1.3h-1.3zM135.0 226.4h1.3v1.3h-1.3zM73.3 135.2h1.3v1.3h-1.3zM182.6 63.2h1.3v1.3h-1.3zM77.6 195.8h1.3v1.3h-1.3zM63.7 140.0h1.3v1.3h-1.3zM344.2 39.9h1.3v1.3h-1.3zM120.3 154.0h1.3v1.3h-1.3zM213.1 162.2h1.3v1.3h-1.3zM305.6 47.8h1.3v1.3h-1.3zM153.4 78.6h1.3v1.3h-1.3zM74.6 222.9h1.3v1.3h-1.3zM296.5 180.3h1.3v1.3h-1.3zM61.9 211.9h1.3v1.3h-1.3zM285.0 119.0h1.3v1.3h-1.3zM284.0 115.9h1.3v1.3h-1.3zM128.2 30.8h1.3v1.3h-1.3zM130.2 14.5h1.3v1.3h-1.3zM161.3 188.7h1.3v1.3h-1.3zM269.9 212.1h1.3v1.3h-1.3zM274.9 70.2h1.3v1.3h-1.3zM227.2 111.8h1.3v1.3h-1.3zM298.1 133.2h1.3v1.3h-1.3zM140.1 162.3h1.3v1.3h-1.3zM351.5 58.2h1.3v1.3h-1.3zM325.8 8.7h1.3v1.3h-1.3zM138.6 62.8h1.3v1.3h-1.3zM284.7 236.5h1.3v1.3h-1.3zM285.3 85.1h1.3v1.3h-1.3zM325.8 85.5h1.3v1.3h-1.3zM132.2 227.4h1.3v1.3h-1.3zM250.5 174.7h1.3v1.3h-1.3zM260.9 244.9h1.3v1.3h-1.3zM201.8 210.7h1.3v1.3h-1.3zM270.7 215.1h1.3v1.3h-1.3zM192.0 182.5h1.3v1.3h-1.3zM232.2 80.4h1.3v1.3h-1.3zM124.0 157.5h1.3v1.3h-1.3zM83.5 228.1h1.3v1.3h-1.3zM103.7 11.6h1.3v1.3h-1.3zM92.2 232.6h1.3v1.3h-1.3zM164.1 39.8h1.3v1.3h-1.3zM68.7 15.2h1.3v1.3h-1.3zM269.2 160.3h1.3v1.3h-1.3zM270.5 185.5h1.3v1.3h-1.3zM79.9 149.7h1.3v1.3h-1.3zM169.7 205.3h1.3v1.3h-1.3zM307.5 223.4h1.3v1.3h-1.3zM79.9 217.6h1.3v1.3h-1.3zM336.2 236.4h1.3v1.3h-1.3zM92.3 55.4h1.3v1.3h-1.3zM93.8 13.4h1.3v1.3h-1.3zM316.0 203.9h1.3v1.3h-1.3zM251.5 207.1h1.3v1.3h-1.3zM250.7 75.4h1.3v1.3h-1.3zM90.2 29.0h1.3v1.3h-1.3zM288.7 55.2h1.3v1.3h-1.3zM156.4 108.8h1.3v1.3h-1.3zM66.3 67.9h1.3v1.3h-1.3zM145.3 180.4h1.3v1.3h-1.3zM171.1 83.6h1.3v1.3h-1.3zM351.1 128.4h1.3v1.3h-1.3zM317.1 156.5h1.3v1.3h-1.3zM69.4 106.2h1.3v1.3h-1.3zM191.8 194.4h1.3v1.3h-1.3zM164.7 177.6h1.3v1.3h-1.3zM222.4 58.1h1.3v1.3h-1.3zM320.4 27.3h1.3v1.3h-1.3zM307.6 46.7h1.3v1.3h-1.3zM60.4 54.5h1.3v1.3h-1.3zM290.2 244.6h1.3v1.3h-1.3zM61.3 125.3h1.3v1.3h-1.3zM208.4 200.2h1.3v1.3h-1.3zM115.7 126.2h1.3v1.3h-1.3zM164.9 208.8h1.3v1.3h-1.3zM138.7 236.2h1.3v1.3h-1.3zM145.7 57.6h1.3v1.3h-1.3zM271.2 127.1h1.3v1.3h-1.3zM93.2 161.0h1.3v1.3h-1.3zM84.4 198.0h1.3v1.3h-1.3zM270.5 197.8h1.3v1.3h-1.3zM249.6 92.1h1.3v1.3h-1.3zM181.2 101.7h1.3v1.3h-1.3zM328.9 26.1h1.3v1.3h-1.3zM328.3 11.2h1.3v1.3h-1.3zM122.2 69.5h1.3v1.3h-1.3zM332.2 127.8h1.3v1.3h-1.3zM174.6 221.6h1.3v1.3h-1.3zM130.5 117.9h1.3v1.3h-1.3zM220.5 189.8h1.3v1.3h-1.3zM287.4 163.3h1.3v1.3h-1.3zM165.2 85.0h1.3v1.3h-1.3zM106.9 211.6h1.3v1.3h-1.3zM260.0 186.8h1.3v1.3h-1.3zM111.2 112.5h1.3v1.3h-1.3zM293.6 146.9h1.3v1.3h-1.3zM98.1 118.2h1.3v1.3h-1.3zM327.3 63.3h1.3v1.3h-1.3zM117.9 78.9h1.3v1.3h-1.3zM272.4 211.7h1.3v1.3h-1.3zM106.7 43.2h1.3v1.3h-1.3zM134.8 85.0h1.3v1.3h-1.3zM217.7 44.4h1.3v1.3h-1.3zM159.1 51.4h1.3v1.3h-1.3zM354.5 183.5h1.3v1.3h-1.3zM90.7 240.8h1.3v1.3h-1.3zM90.7 99.1h1.3v1.3h-1.3zM357.1 199.7h1.3v1.3h-1.3zM281.5 111.6h1.3v1.3h-1.3zM119.2 161.3h1.3v1.3h-1.3zM92.3 55.6h1.3v1.3h-1.3zM177.3 13.3h1.3v1.3h-1.3zM180.5 198.8h1.3v1.3h-1.3zM269.4 127.6h1.3v1.3h-1.3zM251.0 118.5h1.3v1.3h-1.3zM102.8 152.9h1.3v1.3h-1.3zM182.2 186.5h1.3v1.3h-1.3zM334.2 110.4h1.3v1.3h-1.3zM233.3 188.5h1.3v1.3h-1.3zM187.2 61.0h1.3v1.3h-1.3zM278.1 220.6h1.3v1.3h-1.3zM293.8 176.5h1.3v1.3h-1.3zM317.4 171.5h1.3v1.3h-1.3zM253.7 116.2h1.3v1.3h-1.3zM154.5 158.9h1.3v1.3h-1.3zM89.6 107.8h1.3v1.3h-1.3zM296.3 179.7h1.3v1.3h-1.3zM250.1 66.3h1.3v1.3h-1.3zM187.9 116.5h1.3v1.3h-1.3zM247.7 105.3h1.3v1.3h-1.3zM263.9 232.9h1.3v1.3h-1.3zM115.3 165.3h1.3v1.3h-1.3zM295.0 100.2h1.3v1.3h-1.3zM207.9 243.8h1.3v1.3h-1.3zM71.5 138.1h1.3v1.3h-1.3zM108.6 196.5h1.3v1.3h-1.3zM344.1 132.2h1.3v1.3h-1.3zM90.5 145.8h1.3v1.3h-1.3zM223.4 180.7h1.3v1.3h-1.3zM214.7 161.6h1.3v1.3h-1.3zM310.4 132.8h1.3v1.3h-1.3zM183.9 237.3h1.3v1.3h-1.3zM123.4 172.7h1.3v1.3h-1.3zM178.5 191.9h1.3v1.3h-1.3zM97.0 246.2h1.3v1.3h-1.3zM167.4 18.9h1.3v1.3h-1.3zM142.9 102.9h1.3v1.3h-1.3zM64.0 107.6h1.3v1.3h-1.3zM187.0 176.1h1.3v1.3h-1.3zM166.3 70.0h1.3v1.3h-1.3zM127.8 186.7h1.3v1.3h-1.3zM343.9 134.1h1.3v1.3h-1.3zM126.1 201.4h1.3v1.3h-1.3zM178.4 56.9h1.3v1.3h-1.3zM99.0 195.3h1.3v1.3h-1.3zM304.5 160.4h1.3v1.3h-1.3zM201.7 142.7h1.3v1.3h-1.3zM128.2 241.1h1.3v1.3h-1.3zM166.6 161.5h1.3v1.3h-1.3zM307.3 205.0h1.3v1.3h-1.3zM201.4 77.1h1.3v1.3h-1.3zM225.6 35.7h1.3v1.3h-1.3zM311.8 91.9h1.3v1.3h-1.3zM316.9 70.5h1.3v1.3h-1.3zM173.6 67.1h1.3v1.3h-1.3zM188.7 50.5h1.3v1.3h-1.3zM60.8 181.8h1.3v1.3h-1.3zM144.9 65.0h1.3v1.3h-1.3zM151.1 122.5h1.3v1.3h-1.3zM189.4 161.1h1.3v1.3h-1.3zM259.1 93.8h1.3v1.3h-1.3zM340.5 214.3h1.3v1.3h-1.3zM77.2 207.8h1.3v1.3h-1.3zM333.6 197.1h1.3v1.3h-1.3zM102.4 208.7h1.3v1.3h-1.3zM251.2 8.7h1.3v1.3h-1.3zM63.5 238.2h1.3v1.3h-1.3zM258.1 66.3h1.3v1.3h-1.3zM90.7 40.0h1.3v1.3h-1.3zM130.6 195.2h1.3v1.3h-1.3zM164.6 42.4h1.3v1.3h-1.3zM333.0 199.0h1.3v1.3h-1.3zM110.7 223.3h1.3v1.3h-1.3zM243.7 196.4h1.3v1.3h-1.3zM261.9 224.0h1.3v1.3h-1.3zM298.0 210.5h1.3v1.3h-1.3zM119.6 174.7h1.3v1.3h-1.3zM220.3 186.8h1.3v1.3h-1.3zM192.5 221.3h1.3v1.3h-1.3zM227.6 69.8h1.3v1.3h-1.3zM130.7 39.1h1.3v1.3h-1.3zM208.9 19.3h1.3v1.3h-1.3zM201.1 40.4h1.3v1.3h-1.3zM208.4 127.1h1.3v1.3h-1.3zM222.9 216.4h1.3v1.3h-1.3zM62.0 211.0h1.3v1.3h-1.3zM201.3 142.8h1.3v1.3h-1.3zM260.9 210.9h1.3v1.3h-1.3zM173.2 107.6h1.3v1.3h-1.3zM350.1 23.5h1.3v1.3h-1.3zM252.4 160.9h1.3v1.3h-1.3zM68.6 154.4h1.3v1.3h-1.3zM266.1 233.2h1.3v1.3h-1.3zM159.8 245.5h1.3v1.3h-1.3zM214.2 123.7h1.3v1.3h-1.3zM331.1 13.3h1.3v1.3h-1.3zM276.9 158.2h1.3v1.3h-1.3zM162.3 216.1h1.3v1.3h-1.3zM170.6 121.3h1.3v1.3h-1.3zM218.7 193.8h1.3v1.3h-1.3zM123.6 111.6h1.3v1.3h-1.3zM187.6 140.7h1.3v1.3h-1.3zM309.7 76.8h1.3v1.3h-1.3zM310.0 103.9h1.3v1.3h-1.3zM212.1 71.6h1.3v1.3h-1.3zM212.9 243.9h1.3v1.3h-1.3zM257.7 199.0h1.3v1.3h-1.3zM159.9 82.7h1.3v1.3h-1.3zM150.4 148.7h1.3v1.3h-1.3zM251.7 197.1h1.3v1.3h-1.3zM72.1 182.1h1.3v1.3h-1.3zM327.5 138.6h1.3v1.3h-1.3zM75.0 78.6h1.3v1.3h-1.3zM61.9 51.5h1.3v1.3h-1.3zM338.3 154.1h1.3v1.3h-1.3zM258.7 198.3h1.3v1.3h-1.3zM334.8 154.9h1.3v1.3h-1.3zM246.2 158.6h1.3v1.3h-1.3zM270.3 151.1h1.3v1.3h-1.3zM265.7 57.1h1.3v1.3h-1.3zM261.4 117.2h1.3v1.3h-1.3zM290.3 29.8h1.3v1.3h-1.3zM114.8 14.1h1.3v1.3h-1.3zM293.9 229.0h1.3v1.3h-1.3zM258.0 95.4h1.3v1.3h-1.3zM308.4 197.7h1.3v1.3h-1.3zM229.8 68.2h1.3v1.3h-1.3zM151.2 108.3h1.3v1.3h-1.3zM156.2 110.5h1.3v1.3h-1.3zM253.8 233.8h1.3v1.3h-1.3zM76.5 144.0h1.3v1.3h-1.3zM71.9 34.1h1.3v1.3h-1.3zM304.7 146.0h1.3v1.3h-1.3zM337.4 114.4h1.3v1.3h-1.3zM64.3 99.8h1.3v1.3h-1.3zM238.8 234.7h1.3v1.3h-1.3zM356.2 121.5h1.3v1.3h-1.3zM184.5 30.0h1.3v1.3h-1.3zM254.6 57.0h1.3v1.3h-1.3zM105.8 8.8h1.3v1.3h-1.3zM61.4 172.5h1.3v1.3h-1.3zM96.7 241.8h1.3v1.3h-1.3zM86.6 218.0h1.3v1.3h-1.3zM98.9 9.4h1.3v1.3h-1.3zM277.2 64.4h1.3v1.3h-1.3zM281.5 50.9h1.3v1.3h-1.3zM75.1 194.6h1.3v1.3h-1.3zM275.5 214.6h1.3v1.3h-1.3zM280.4 25.7h1.3v1.3h-1.3zM249.8 178.8h1.3v1.3h-1.3zM199.1 233.4h1.3v1.3h-1.3zM136.7 241.3h1.3v1.3h-1.3zM276.6 7.8h1.3v1.3h-1.3zM64.4 164.4h1.3v1.3h-1.3zM306.8 24.5h1.3v1.3h-1.3zM153.9 183.7h1.3v1.3h-1.3zM110.1 215.9h1.3v1.3h-1.3zM206.9 19.6h1.3v1.3h-1.3zM171.0 145.9h1.3v1.3h-1.3zM192.5 170.8h1.3v1.3h-1.3zM103.8 200.4h1.3v1.3h-1.3zM169.7 163.0h1.3v1.3h-1.3zM250.2 107.4h1.3v1.3h-1.3zM176.5 197.6h1.3v1.3h-1.3zM345.4 197.2h1.3v1.3h-1.3zM231.2 76.6h1.3v1.3h-1.3zM78.3 243.6h1.3v1.3h-1.3zM272.4 207.7h1.3v1.3h-1.3zM160.3 153.4h1.3v1.3h-1.3zM355.2 208.7h1.3v1.3h-1.3zM241.5 80.6h1.3v1.3h-1.3zM189.4 222.6h1.3v1.3h-1.3zM173.8 172.8h1.3v1.3h-1.3zM241.7 224.5h1.3v1.3h-1.3zM303.9 74.4h1.3v1.3h-1.3zM60.5 69.4h1.3v1.3h-1.3zM187.6 148.7h1.3v1.3h-1.3zM306.4 222.4h1.3v1.3h-1.3zM72.8 209.1h1.3v1.3h-1.3zM305.1 217.5h1.3v1.3h-1.3zM232.7 72.1h1.3v1.3h-1.3zM317.1 202.7h1.3v1.3h-1.3zM266.8 228.9h1.3v1.3h-1.3zM164.7 25.8h1.3v1.3h-1.3zM227.2 200.4h1.3v1.3h-1.3zM120.5 188.8h1.3v1.3h-1.3zM341.4 62.3h1.3v1.3h-1.3zM243.3 171.0h1.3v1.3h-1.3zM200.5 55.6h1.3v1.3h-1.3zM136.9 189.0h1.3v1.3h-1.3zM299.1 117.6h1.3v1.3h-1.3zM86.5 202.6h1.3v1.3h-1.3zM293.2 62.1h1.3v1.3h-1.3zM235.0 224.7h1.3v1.3h-1.3zM327.3 132.9h1.3v1.3h-1.3zM203.9 149.4h1.3v1.3h-1.3zM117.1 52.1h1.3v1.3h-1.3zM114.6 176.8h1.3v1.3h-1.3zM169.6 143.3h1.3v1.3h-1.3zM181.6 131.7h1.3v1.3h-1.3zM105.0 15.9h1.3v1.3h-1.3zM361.1 96.6h1.3v1.3h-1.3zM92.0 160.0h1.3v1.3h-1.3zM297.8 43.3h1.3v1.3h-1.3zM240.4 89.5h1.3v1.3h-1.3zM216.9 10.0h1.3v1.3h-1.3zM70.1 247.6h1.3v1.3h-1.3zM321.6 124.1h1.3v1.3h-1.3zM231.3 69.1h1.3v1.3h-1.3zM295.3 109.4h1.3v1.3h-1.3zM345.8 193.0h1.3v1.3h-1.3zM307.3 241.0h1.3v1.3h-1.3zM136.7 14.3h1.3v1.3h-1.3zM120.7 49.3h1.3v1.3h-1.3zM85.3 17.5h1.3v1.3h-1.3zM228.3 218.3h1.3v1.3h-1.3zM198.4 237.1h1.3v1.3h-1.3zM334.8 20.7h1.3v1.3h-1.3zM240.6 102.4h1.3v1.3h-1.3zM96.2 240.0h1.3v1.3h-1.3zM137.7 143.3h1.3v1.3h-1.3zM253.5 239.3h1.3v1.3h-1.3zM262.3 101.3h1.3v1.3h-1.3zM195.4 44.1h1.3v1.3h-1.3zM351.7 248.0h1.3v1.3h-1.3zM127.0 14.5h1.3v1.3h-1.3zM137.3 91.2h1.3v1.3h-1.3zM332.6 226.6h1.3v1.3h-1.3zM312.8 16.5h1.3v1.3h-1.3zM297.5 178.9h1.3v1.3h-1.3zM255.3 246.4h1.3v1.3h-1.3zM76.8 40.5h1.3v1.3h-1.3zM288.0 235.1h1.3v1.3h-1.3zM264.4 78.2h1.3v1.3h-1.3zM238.6 190.7h1.3v1.3h-1.3zM91.8 84.4h1.3v1.3h-1.3zM137.6 35.4h1.3v1.3h-1.3zM205.4 46.3h1.3v1.3h-1.3zM132.0 40.1h1.3v1.3h-1.3zM264.6 8.1h1.3v1.3h-1.3zM276.6 52.8h1.3v1.3h-1.3zM70.9 232.3h1.3v1.3h-1.3zM126.6 233.8h1.3v1.3h-1.3zM321.8 222.7h1.3v1.3h-1.3zM102.2 114.6h1.3v1.3h-1.3zM89.3 232.6h1.3v1.3h-1.3zM314.4 159.0h1.3v1.3h-1.3zM196.6 88.2h1.3v1.3h-1.3zM308.6 122.0h1.3v1.3h-1.3zM249.7 40.0h1.3v1.3h-1.3zM126.9 18.9h1.3v1.3h-1.3zM275.5 140.6h1.3v1.3h-1.3zM103.7 218.3h1.3v1.3h-1.3zM140.5 105.9h1.3v1.3h-1.3zM107.0 71.4h1.3v1.3h-1.3zM313.5 87.0h1.3v1.3h-1.3zM110.7 125.3h1.3v1.3h-1.3zM156.1 226.3h1.3v1.3h-1.3zM94.5 244.8h1.3v1.3h-1.3zM77.2 224.3h1.3v1.3h-1.3zM261.8 56.7h1.3v1.3h-1.3zM204.2 75.1h1.3v1.3h-1.3zM137.9 54.4h1.3v1.3h-1.3zM170.0 247.8h1.3v1.3h-1.3zM361.4 231.6h1.3v1.3h-1.3zM89.5 75.9h1.3v1.3h-1.3zM330.7 19.1h1.3v1.3h-1.3zM279.4 76.9h1.3v1.3h-1.3zM355.5 8.9h1.3v1.3h-1.3zM303.7 88.5h1.3v1.3h-1.3zM102.3 5.5h1.3v1.3h-1.3zM311.3 134.0h1.3v1.3h-1.3zM116.1 111.6h1.3v1.3h-1.3zM335.4 58.5h1.3v1.3h-1.3zM232.5 38.8h1.3v1.3h-1.3zM114.4 193.8h1.3v1.3h-1.3zM274.9 53.2h1.3v1.3h-1.3zM83.9 26.4h1.3v1.3h-1.3zM243.8 126.4h1.3v1.3h-1.3zM142.7 55.5h1.3v1.3h-1.3zM245.0 178.4h1.3v1.3h-1.3zM305.1 147.8h1.3v1.3h-1.3zM121.1 21.1h1.3v1.3h-1.3zM281.3 105.0h1.3v1.3h-1.3zM277.9 18.6h1.3v1.3h-1.3zM304.8 87.1h1.3v1.3h-1.3zM314.3 216.8h1.3v1.3h-1.3zM208.9 8.8h1.3v1.3h-1.3zM334.9 121.8h1.3v1.3h-1.3zM323.3 70.2h1.3v1.3h-1.3zM116.2 208.7h1.3v1.3h-1.3zM170.9 45.1h1.3v1.3h-1.3zM172.1 150.7h1.3v1.3h-1.3zM61.4 132.4h1.3v1.3h-1.3zM194.6 131.3h1.3v1.3h-1.3zM96.5 180.1h1.3v1.3h-1.3zM306.6 217.0h1.3v1.3h-1.3zM156.9 179.2h1.3v1.3h-1.3zM175.2 189.1h1.3v1.3h-1.3zM78.5 218.8h1.3v1.3h-1.3zM348.1 126.2h1.3v1.3h-1.3zM215.0 135.0h1.3v1.3h-1.3zM222.3 10.1h1.3v1.3h-1.3zM352.2 59.8h1.3v1.3h-1.3zM115.1 30.2h1.3v1.3h-1.3zM135.6 205.2h1.3v1.3h-1.3zM69.1 28.6h1.3v1.3h-1.3zM271.1 52.8h1.3v1.3h-1.3zM65.3 151.9h1.3v1.3h-1.3zM234.1 133.1h1.3v1.3h-1.3zM272.2 30.2h1.3v1.3h-1.3zM322.6 180.7h1.3v1.3h-1.3zM73.6 35.1h1.3v1.3h-1.3zM209.1 127.7h1.3v1.3h-1.3zM144.4 34.9h1.3v1.3h-1.3zM182.5 38.6h1.3v1.3h-1.3zM238.7 216.0h1.3v1.3h-1.3zM104.5 145.3h1.3v1.3h-1.3zM285.5 45.3h1.3v1.3h-1.3zM309.5 234.7h1.3v1.3h-1.3zM177.4 108.0h1.3v1.3h-1.3zM313.6 133.8h1.3v1.3h-1.3zM179.5 235.6h1.3v1.3h-1.3zM294.6 87.9h1.3v1.3h-1.3zM132.6 87.1h1.3v1.3h-1.3zM191.5 245.4h1.3v1.3h-1.3zM302.9 228.6h1.3v1.3h-1.3zM306.1 212.7h1.3v1.3h-1.3zM76.2 131.8h1.3v1.3h-1.3zM349.3 233.9h1.3v1.3h-1.3zM135.3 108.4h1.3v1.3h-1.3zM251.1 94.3h1.3v1.3h-1.3zM220.3 22.0h1.3v1.3h-1.3zM190.8 128.7h1.3v1.3h-1.3zM66.3 39.2h1.3v1.3h-1.3zM352.8 195.3h1.3v1.3h-1.3zM343.0 160.1h1.3v1.3h-1.3zM304.4 221.7h1.3v1.3h-1.3zM327.2 13.4h1.3v1.3h-1.3zM253.8 70.1h1.3v1.3h-1.3zM264.9 72.0h1.3v1.3h-1.3zM223.8 231.5h1.3v1.3h-1.3zM247.6 66.4h1.3v1.3h-1.3zM217.1 111.3h1.3v1.3h-1.3zM347.2 75.4h1.3v1.3h-1.3zM152.2 163.6h1.3v1.3h-1.3zM96.4 150.6h1.3v1.3h-1.3zM348.7 130.9h1.3v1.3h-1.3zM141.1 119.3h1.3v1.3h-1.3zM221.2 41.4h1.3v1.3h-1.3zM97.4 37.2h1.3v1.3h-1.3zM148.7 104.6h1.3v1.3h-1.3zM147.1 64.6h1.3v1.3h-1.3zM86.5 138.8h1.3v1.3h-1.3zM313.6 154.4h1.3v1.3h-1.3zM232.2 164.3h1.3v1.3h-1.3zM120.8 179.0h1.3v1.3h-1.3zM199.2 139.3h1.3v1.3h-1.3zM245.1 119.9h1.3v1.3h-1.3zM153.8 64.4h1.3v1.3h-1.3zM126.9 130.6h1.3v1.3h-1.3zM175.7 148.5h1.3v1.3h-1.3zM63.6 91.4h1.3v1.3h-1.3zM320.3 63.4h1.3v1.3h-1.3zM228.1 125.4h1.3v1.3h-1.3zM146.0 246.9h1.3v1.3h-1.3zM149.2 194.2h1.3v1.3h-1.3zM107.9 21.4h1.3v1.3h-1.3zM323.1 112.8h1.3v1.3h-1.3zM78.7 100.0h1.3v1.3h-1.3zM192.8 185.2h1.3v1.3h-1.3zM93.0 60.2h1.3v1.3h-1.3zM349.7 186.0h1.3v1.3h-1.3zM106.7 87.6h1.3v1.3h-1.3zM166.4 170.5h1.3v1.3h-1.3zM246.1 213.2h1.3v1.3h-1.3zM308.0 131.9h1.3v1.3h-1.3zM283.1 187.1h1.3v1.3h-1.3zM289.4 121.4h1.3v1.3h-1.3zM297.1 178.6h1.3v1.3h-1.3zM336.2 36.2h1.3v1.3h-1.3zM323.0 6.1h1.3v1.3h-1.3zM291.2 148.5h1.3v1.3h-1.3zM210.4 240.9h1.3v1.3h-1.3zM232.7 107.4h1.3v1.3h-1.3zM296.7 218.8h1.3v1.3h-1.3zM243.4 98.0h1.3v1.3h-1.3zM196.6 117.2h1.3v1.3h-1.3zM278.4 76.8h1.3v1.3h-1.3zM178.0 141.1h1.3v1.3h-1.3zM176.1 83.9h1.3v1.3h-1.3zM297.7 213.1h1.3v1.3h-1.3zM210.9 113.8h1.3v1.3h-1.3zM115.6 79.5h1.3v1.3h-1.3zM103.8 146.0h1.3v1.3h-1.3zM235.6 26.5h1.3v1.3h-1.3zM337.9 84.3h1.3v1.3h-1.3zM314.7 210.3h1.3v1.3h-1.3zM349.5 55.1h1.3v1.3h-1.3zM188.8 228.1h1.3v1.3h-1.3zM63.2 16.6h1.3v1.3h-1.3zM230.6 126.8h1.3v1.3h-1.3zM337.9 194.5h1.3v1.3h-1.3zM222.6 249.6h1.3v1.3h-1.3zM216.3 131.7h1.3v1.3h-1.3zM266.9 100.4h1.3v1.3h-1.3zM168.0 150.7h1.3v1.3h-1.3zM166.0 237.2h1.3v1.3h-1.3zM264.3 133.7h1.3v1.3h-1.3zM89.9 96.7h1.3v1.3h-1.3zM181.1 142.5h1.3v1.3h-1.3zM233.4 220.6h1.3v1.3h-1.3zM351.3 124.2h1.3v1.3h-1.3zM192.9 158.0h1.3v1.3h-1.3zM360.8 89.1h1.3v1.3h-1.3zM220.1 204.9h1.3v1.3h-1.3zM111.6 82.9h1.3v1.3h-1.3zM355.5 207.4h1.3v1.3h-1.3zM214.8 32.1h1.3v1.3h-1.3zM330.1 174.0h1.3v1.3h-1.3zM307.8 247.6h1.3v1.3h-1.3zM328.2 108.1h1.3v1.3h-1.3zM107.2 76.0h1.3v1.3h-1.3zM214.5 128.7h1.3v1.3h-1.3zM116.8 49.7h1.3v1.3h-1.3zM250.3 152.8h1.3v1.3h-1.3zM166.7 248.5h1.3v1.3h-1.3zM252.2 15.4h1.3v1.3h-1.3zM184.2 198.0h1.3v1.3h-1.3zM152.6 174.2h1.3v1.3h-1.3zM61.2 79.6h1.3v1.3h-1.3zM314.3 148.6h1.3v1.3h-1.3zM261.8 53.2h1.3v1.3h-1.3zM210.4 140.5h1.3v1.3h-1.3zM140.3 163.5h1.3v1.3h-1.3zM220.5 249.3h1.3v1.3h-1.3zM233.5 105.7h1.3v1.3h-1.3zM96.7 43.4h1.3v1.3h-1.3zM289.4 31.1h1.3v1.3h-1.3zM90.2 46.8h1.3v1.3h-1.3zM217.8 206.7h1.3v1.3h-1.3zM245.1 202.6h1.3v1.3h-1.3zM78.8 8.1h1.3v1.3h-1.3zM292.7 84.1h1.3v1.3h-1.3zM276.1 91.7h1.3v1.3h-1.3zM111.2 70.3h1.3v1.3h-1.3zM90.0 226.4h1.3v1.3h-1.3zM235.8 90.5h1.3v1.3h-1.3zM195.9 99.5h1.3v1.3h-1.3zM76.5 223.2h1.3v1.3h-1.3zM236.0 240.1h1.3v1.3h-1.3zM192.8 156.9h1.3v1.3h-1.3zM135.3 15.8h1.3v1.3h-1.3zM341.1 214.4h1.3v1.3h-1.3zM155.1 225.2h1.3v1.3h-1.3zM306.4 79.4h1.3v1.3h-1.3zM242.0 240.2h1.3v1.3h-1.3zM209.7 237.7h1.3v1.3h-1.3zM133.4 100.5h1.3v1.3h-1.3zM277.0 59.2h1.3v1.3h-1.3zM153.4 219.5h1.3v1.3h-1.3zM206.3 199.2h1.3v1.3h-1.3zM133.5 47.5h1.3v1.3h-1.3zM168.2 50.7h1.3v1.3h-1.3zM353.4 76.2h1.3v1.3h-1.3zM229.6 33.1h1.3v1.3h-1.3zM221.2 99.5h1.3v1.3h-1.3zM181.8 21.0h1.3v1.3h-1.3zM97.2 207.3h1.3v1.3h-1.3zM166.1 65.0h1.3v1.3h-1.3zM117.7 74.5h1.3v1.3h-1.3zM131.6 13.6h1.3v1.3h-1.3zM260.6 88.6h1.3v1.3h-1.3zM107.1 177.9h1.3v1.3h-1.3zM88.0 71.1h1.3v1.3h-1.3zM312.2 36.3h1.3v1.3h-1.3zM193.9 209.9h1.3v1.3h-1.3zM303.1 44.0h1.3v1.3h-1.3zM166.6 182.0h1.3v1.3h-1.3zM173.8 239.8h1.3v1.3h-1.3zM122.8 238.0h1.3v1.3h-1.3zM212.5 60.7h1.3v1.3h-1.3zM196.7 37.1h1.3v1.3h-1.3zM273.4 68.9h1.3v1.3h-1.3zM331.7 149.0h1.3v1.3h-1.3zM171.1 65.3h1.3v1.3h-1.3zM243.7 57.1h1.3v1.3h-1.3zM323.5 35.1h1.3v1.3h-1.3zM214.9 137.9h1.3v1.3h-1.3zM141.7 194.1h1.3v1.3h-1.3zM176.2 166.1h1.3v1.3h-1.3zM231.4 81.1h1.3v1.3h-1.3zM177.8 26.1h1.3v1.3h-1.3zM113.5 213.5h1.3v1.3h-1.3zM157.0 167.4h1.3v1.3h-1.3zM92.9 142.7h1.3v1.3h-1.3zM169.2 127.6h1.3v1.3h-1.3zM149.7 21.1h1.3v1.3h-1.3zM154.0 60.5h1.3v1.3h-1.3zM98.1 180.6h1.3v1.3h-1.3zM145.3 103.8h1.3v1.3h-1.3zM334.5 194.9h1.3v1.3h-1.3zM326.6 216.0h1.3v1.3h-1.3zM99.9 72.7h1.3v1.3h-1.3zM68.9 171.5h1.3v1.3h-1.3zM260.4 91.1h1.3v1.3h-1.3zM184.6 166.5h1.3v1.3h-1.3zM271.2 65.9h1.3v1.3h-1.3zM315.7 91.3h1.3v1.3h-1.3zM249.9 49.5h1.3v1.3h-1.3zM94.8 228.6h1.3v1.3h-1.3zM281.7 179.6h1.3v1.3h-1.3zM72.2 14.8h1.3v1.3h-1.3zM108.9 53.5h1.3v1.3h-1.3zM151.5 98.3h1.3v1.3h-1.3zM71.8 81.2h1.3v1.3h-1.3zM252.8 49.0h1.3v1.3h-1.3zM313.5 144.7h1.3v1.3h-1.3zM276.4 67.4h1.3v1.3h-1.3zM191.3 172.7h1.3v1.3h-1.3zM165.4 5.2h1.3v1.3h-1.3zM312.0 195.2h1.3v1.3h-1.3zM146.5 15.5h1.3v1.3h-1.3zM318.0 153.8h1.3v1.3h-1.3zM74.3 64.9h1.3v1.3h-1.3zM93.6 198.9h1.3v1.3h-1.3zM123.5 229.0h1.3v1.3h-1.3zM286.4 26.1h1.3v1.3h-1.3zM269.8 101.4h1.3v1.3h-1.3zM285.8 208.0h1.3v1.3h-1.3zM144.9 27.0h1.3v1.3h-1.3zM345.8 108.9h1.3v1.3h-1.3zM340.9 174.4h1.3v1.3h-1.3zM283.1 208.3h1.3v1.3h-1.3zM249.7 115.9h1.3v1.3h-1.3zM76.4 176.1h1.3v1.3h-1.3zM189.4 130.4h1.3v1.3h-1.3zM340.3 36.3h1.3v1.3h-1.3zM290.1 15.7h1.3v1.3h-1.3zM272.2 202.4h1.3v1.3h-1.3zM138.9 138.9h1.3v1.3h-1.3zM352.8 161.2h1.3v1.3h-1.3zM224.3 66.2h1.3v1.3h-1.3zM77.9 92.7h1.3v1.3h-1.3zM184.3 54.3h1.3v1.3h-1.3zM153.8 38.5h1.3v1.3h-1.3zM273.5 169.2h1.3v1.3h-1.3zM131.8 64.2h1.3v1.3h-1.3zM215.6 114.0h1.3v1.3h-1.3zM342.6 91.1h1.3v1.3h-1.3zM150.4 221.7h1.3v1.3h-1.3zM102.9 143.0h1.3v1.3h-1.3zM160.7 204.8h1.3v1.3h-1.3zM225.6 191.3h1.3v1.3h-1.3zM111.1 168.3h1.3v1.3h-1.3zM240.8 118.0h1.3v1.3h-1.3zM291.4 208.6h1.3v1.3h-1.3zM94.6 75.9h1.3v1.3h-1.3zM168.9 55.6h1.3v1.3h-1.3zM78.2 73.8h1.3v1.3h-1.3zM119.5 176.9h1.3v1.3h-1.3zM195.3 32.7h1.3v1.3h-1.3zM158.0 119.8h1.3v1.3h-1.3zM169.6 46.2h1.3v1.3h-1.3zM81.7 7.6h1.3v1.3h-1.3zM359.6 188.9h1.3v1.3h-1.3zM85.4 180.7h1.3v1.3h-1.3zM356.0 143.1h1.3v1.3h-1.3zM92.9 124.8h1.3v1.3h-1.3zM191.1 51.5h1.3v1.3h-1.3zM224.0 7.0h1.3v1.3h-1.3zM337.7 162.9h1.3v1.3h-1.3zM249.6 234.1h1.3v1.3h-1.3zM257.1 66.6h1.3v1.3h-1.3zM134.3 39.0h1.3v1.3h-1.3zM68.4 194.7h1.3v1.3h-1.3zM313.6 77.6h1.3v1.3h-1.3zM116.1 161.3h1.3v1.3h-1.3zM315.4 232.0h1.3v1.3h-1.3zM110.9 197.2h1.3v1.3h-1.3zM310.8 186.9h1.3v1.3h-1.3zM158.7 50.2h1.3v1.3h-1.3zM309.2 83.4h1.3v1.3h-1.3zM171.3 140.0h1.3v1.3h-1.3zM171.5 208.7h1.3v1.3h-1.3zM132.3 15.1h1.3v1.3h-1.3zM231.2 158.9h1.3v1.3h-1.3zM307.6 177.9h1.3v1.3h-1.3zM333.4 236.5h1.3v1.3h-1.3zM209.3 127.4h1.3v1.3h-1.3zM107.6 78.4h1.3v1.3h-1.3zM235.5 24.7h1.3v1.3h-1.3zM267.8 45.1h1.3v1.3h-1.3zM193.8 242.6h1.3v1.3h-1.3zM87.1 14.8h1.3v1.3h-1.3zM192.7 51.7h1.3v1.3h-1.3zM278.3 5.7h1.3v1.3h-1.3zM313.9 214.6h1.3v1.3h-1.3zM297.6 109.2h1.3v1.3h-1.3zM145.5 167.1h1.3v1.3h-1.3zM215.4 108.2h1.3v1.3h-1.3zM162.3 112.5h1.3v1.3h-1.3zM261.2 207.4h1.3v1.3h-1.3zM333.0 45.3h1.3v1.3h-1.3zM149.3 113.6h1.3v1.3h-1.3zM230.1 90.3h1.3v1.3h-1.3zM119.0 25.8h1.3v1.3h-1.3zM157.8 117.8h1.3v1.3h-1.3zM353.3 227.6h1.3v1.3h-1.3zM321.4 243.7h1.3v1.3h-1.3zM350.5 156.9h1.3v1.3h-1.3zM305.0 19.7h1.3v1.3h-1.3zM264.3 154.2h1.3v1.3h-1.3zM149.7 144.9h1.3v1.3h-1.3zM347.7 122.8h1.3v1.3h-1.3zM255.5 78.3h1.3v1.3h-1.3zM163.7 221.9h1.3v1.3h-1.3zM68.4 51.3h1.3v1.3h-1.3zM265.0 114.6h1.3v1.3h-1.3zM85.7 166.8h1.3v1.3h-1.3zM172.3 147.3h1.3v1.3h-1.3zM185.7 134.8h1.3v1.3h-1.3zM230.6 102.1h1.3v1.3h-1.3zM94.5 49.2h1.3v1.3h-1.3zM328.8 139.3h1.3v1.3h-1.3zM93.9 216.2h1.3v1.3h-1.3zM136.6 28.3h1.3v1.3h-1.3zM220.3 66.6h1.3v1.3h-1.3zM207.8 140.7h1.3v1.3h-1.3zM128.4 145.3h1.3v1.3h-1.3zM94.1 130.7h1.3v1.3h-1.3zM237.7 24.7h1.3v1.3h-1.3zM183.2 23.0h1.3v1.3h-1.3zM192.7 216.6h1.3v1.3h-1.3zM226.3 180.1h1.3v1.3h-1.3zM288.6 33.1h1.3v1.3h-1.3zM359.2 181.8h1.3v1.3h-1.3zM90.8 208.4h1.3v1.3h-1.3zM178.4 47.0h1.3v1.3h-1.3z" fill="#cdcdcd"/></g><polygon points="64.5,248.0 65.1,220.0 65.7,210.0 67.7,165.0 71.1,110.0 72.5,95.0 75.1,81.0 78.1,69.0 83.3,54.0 88.2,43.1 94.2,35.1 100.2,30.1 105.0,27.0 113.0,23.0 113.0,26.0 124.0,40.0 124.5,44.6 118.3,51.8 113.5,59.0 110.6,66.0 107.5,73.0 104.5,81.0 100.5,95.0 98.2,110.0 95.2,130.0 94.5,150.0 94.0,165.0 92.5,200.0 91.5,215.0 90.6,248.0" fill="url(#pg)"/><polygon points="113.0,26.0 132.0,31.0 147.0,45.4 160.0,56.8 170.0,64.5 180.0,71.5 195.0,78.0 205.0,82.0 214.0,85.0 205.0,92.0 195.0,89.0 180.0,82.0 165.0,73.5 153.7,64.1 139.8,52.8 124.0,40.0" fill="url(#pb)" stroke="#223" stroke-width="0.5"/><polygon points="170.0,14.2 187.0,16.4 195.0,20.5 205.0,21.8 230.0,28.0 241.0,32.8 257.0,37.0 273.0,39.3 283.0,42.0 285.0,44.0 280.0,45.0 273.0,42.8 265.0,41.8 257.0,40.6 246.0,38.0 235.0,35.4 222.0,32.6 211.0,29.0 200.0,25.2 196.0,23.5 185.0,18.5" fill="url(#pb)" stroke="#223" stroke-width="0.5"/><polygon points="90.6,248.0 91.5,215.0 92.5,200.0 94.0,165.0 94.5,150.0 95.2,130.0 98.2,110.0 100.5,95.0 104.5,81.0 107.5,73.0 110.6,66.0 113.5,59.0 118.3,51.8 124.5,44.6 130.4,40.6 135.4,36.7 142.3,31.5 150.2,26.9 157.4,23.8 165.0,21.0 172.0,19.2 180.0,17.4 195.0,15.8 215.0,14.0 230.0,12.6 245.0,11.8 275.0,10.0 300.0,8.0 300.0,9.0 275.0,12.0 245.0,15.0 230.0,17.5 215.0,20.7 201.0,23.3 187.0,27.2 180.0,29.2 175.0,30.8 165.0,34.3 157.0,38.9 150.0,43.2 145.5,46.3 139.2,52.5 133.8,59.3 129.0,67.0 125.0,75.0 119.6,90.0 116.3,104.0 113.8,112.0 110.8,135.0 109.0,156.0 108.0,166.0 106.0,186.0 105.0,205.0 104.0,248.0" fill="url(#pr)" stroke="#301010" stroke-width="0.6" stroke-linejoin="round"/><polygon points="104.0,248.0 105.0,205.0 106.0,186.0 108.0,166.0 109.0,156.0 113.0,140.0 120.0,110.0 125.3,99.3 135.2,87.2 145.0,77.0 149.5,71.9 153.8,68.3 160.0,64.9 165.0,61.8 170.0,59.2 176.0,56.8 187.0,53.4 199.0,51.0 215.0,48.0 230.0,46.0 245.0,43.0 265.0,41.0 285.0,39.0 287.0,40.0 280.0,46.0 277.0,45.0 255.0,48.0 235.0,51.5 215.0,56.0 205.0,58.0 191.5,62.6 182.0,67.5 172.4,75.0 165.0,81.9 155.6,90.0 146.5,105.0 142.8,110.0 139.0,120.0 136.0,130.0 129.0,150.0 126.0,165.0 122.5,193.0 120.0,215.0 119.5,235.0 119.0,238.0 115.0,248.0" fill="url(#pr)" stroke="#301010" stroke-width="0.6" stroke-linejoin="round"/><polygon points="119.0,238.0 120.0,215.0 122.5,193.0 130.5,165.0 135.0,150.0 142.5,136.0 154.5,119.5 162.5,112.5 169.5,106.0 177.0,99.8 185.0,95.3 195.0,91.2 201.0,89.7 215.0,84.0 227.0,81.0 239.5,78.4 235.0,81.0 222.6,92.2 214.2,99.4 201.0,109.0 187.0,119.0 173.0,129.0 161.0,138.0 158.0,145.0 155.0,153.0 150.2,162.0 146.0,170.0 141.0,186.0 138.0,198.0 134.0,204.0 128.0,215.0 123.0,227.0 119.0,238.0" fill="url(#pr)" stroke="#301010" stroke-width="0.6" stroke-linejoin="round"/><polygon points="77.1,80.7 88.2,96.1 91.2,110.0 99.2,140.0 104.0,150.0 112.0,170.0 122.0,193.0 128.0,203.0 134.0,204.0 126.0,217.0 117.0,205.0 106.0,190.0 93.6,150.0 82.5,110.0 81.1,101.0" fill="url(#pb)" stroke="#223" stroke-width="0.5"/><polyline points="64.5,248.0 65.1,220.0 65.7,210.0 67.7,165.0 71.1,110.0 72.5,95.0 75.1,81.0 78.1,69.0 83.3,54.0 88.2,43.1 94.2,35.1 100.2,30.1 105.0,27.0 113.0,23.0 125.0,19.0 137.0,16.4 151.0,14.9 165.0,13.3 180.0,11.7 195.0,10.3 215.0,8.9 230.0,8.4 265.0,7.8 300.0,7.4 329.0,8.0 358.0,9.4 359.8,10.4 358.0,11.6 339.0,19.0 319.0,27.0 299.0,32.0 293.0,34.0 287.0,40.0 279.0,48.0 269.0,56.0 257.0,63.0 247.0,72.0 235.0,81.0 222.6,92.2 214.2,99.4 201.0,109.0 187.0,119.0 173.0,129.0 161.0,138.0 158.0,145.0 155.0,153.0 150.2,162.0 146.0,170.0 141.0,186.0 138.0,198.0 134.0,204.0 128.0,215.0 123.0,227.0 118.0,240.0 115.0,248.0" fill="none" stroke="#000" stroke-width="2.15" stroke-linejoin="round" stroke-linecap="round"/>
<rect x="34.5" y="4.5" width="338.0" height="243.5" fill="none" stroke="#000" stroke-width="0.9"/><path d="M55.3 248.0v-6.8M55.3 4.5v6.8M76.4 248.0v-3.6M76.4 4.5v3.6M97.6 248.0v-6.8M97.6 4.5v6.8M118.8 248.0v-3.6M118.8 4.5v3.6M139.9 248.0v-6.8M139.9 4.5v6.8M161.1 248.0v-3.6M161.1 4.5v3.6M182.2 248.0v-6.8M182.2 4.5v6.8M203.3 248.0v-3.6M203.3 4.5v3.6M224.5 248.0v-6.8M224.5 4.5v6.8M245.6 248.0v-3.6M245.6 4.5v3.6M266.8 248.0v-6.8M266.8 4.5v6.8M287.9 248.0v-3.6M287.9 4.5v3.6M309.1 248.0v-6.8M309.1 4.5v6.8M330.2 248.0v-3.6M330.2 4.5v3.6M351.4 248.0v-6.8M351.4 4.5v6.8M372.6 248.0v-3.6M372.6 4.5v3.6M34.5 248.0h6.8M372.5 248.0h-6.8M34.5 223.6h3.6M372.5 223.6h-3.6M34.5 199.3h6.8M372.5 199.3h-6.8M34.5 175.0h3.6M372.5 175.0h-3.6M34.5 150.6h6.8M372.5 150.6h-6.8M34.5 126.2h3.6M372.5 126.2h-3.6M34.5 101.9h6.8M372.5 101.9h-6.8M34.5 77.5h3.6M372.5 77.5h-3.6M34.5 53.2h6.8M372.5 53.2h-6.8M34.5 28.9h3.6M372.5 28.9h-3.6M34.5 4.5h6.8M372.5 4.5h-6.8" stroke="#000" stroke-width="0.8" fill="none"/>
<g opacity="0.999"><text x="55.3" y="259.2" text-anchor="middle" class="tk">2</text><text x="97.6" y="259.2" text-anchor="middle" class="tk">3</text><text x="139.9" y="259.2" text-anchor="middle" class="tk">4</text><text x="182.2" y="259.2" text-anchor="middle" class="tk">5</text><text x="224.5" y="259.2" text-anchor="middle" class="tk">6</text><text x="266.8" y="259.2" text-anchor="middle" class="tk">7</text><text x="309.1" y="259.2" text-anchor="middle" class="tk">8</text><text x="351.4" y="259.2" text-anchor="middle" class="tk">9</text><text x="32" y="251.8" text-anchor="end" class="tk">1</text><text x="32" y="203.1" text-anchor="end" class="tk">1.1</text><text x="32" y="154.4" text-anchor="end" class="tk">1.2</text><text x="32" y="105.7" text-anchor="end" class="tk">1.3</text><text x="32" y="57.0" text-anchor="end" class="tk">1.4</text><text x="32" y="8.3" text-anchor="end" class="tk">1.5</text><text transform="translate(165.6,271.4) scale(1.05,1)" class="al">Low density: <tspan font-size="13">γ</tspan><tspan dy="3.2" font-size="8">1</tspan></text><text transform="translate(11,168.9) rotate(-90) scale(1.12,1)" class="al">High density: <tspan font-size="13">γ</tspan><tspan dy="3.2" font-size="8">2</tspan></text><text transform="translate(173.4,161.6) scale(1.034,1)" font-size="12.6">Dissallowed by superluminality</text><text x="289.5" y="97.1" font-size="12.2">For <tspan font-size="13">γ</tspan><tspan dy="4" font-size="7.5">1</tspan><tspan dy="-4"> &gt; 7.35,</tspan></text><text x="289.5" y="111" font-size="12.2">μ<tspan dy="4" font-size="7.5">c</tspan><tspan dy="-4"> &lt; 1.125GeV</tspan></text><text x="197.7" y="210.6" font-size="11.8">For M &gt; 2M<tspan dy="4" font-size="8">sol</tspan><tspan dy="-4">,</tspan></text><text x="197.7" y="222.7" font-size="11.8"><tspan font-size="12.6">γ</tspan><tspan dy="4" font-size="7.2">1</tspan><tspan dy="-4"> &gt; 2.86</tspan></text><text transform="translate(43.3,71) rotate(-41)" font-size="9.8">No matching possible</text><text transform="translate(118.6,61.6) rotate(-38)" font-size="10.2">M=2.0M<tspan dy="3.4" dx="0.3" font-size="7">sol</tspan></text><text transform="translate(142.4,94.4) rotate(-40)" font-size="10.4" word-spacing="-1.3">M=2.2 M<tspan dy="3.4" dx="0.3" font-size="7">sol</tspan></text><text transform="translate(157.6,133.2) rotate(-38.5)" font-size="10.2">M=2.4M<tspan dy="3.4" dx="0.3" font-size="7">sol</tspan></text><text transform="translate(82.2,69.6) rotate(68)" font-size="8.6">μ<tspan dy="2" font-size="5.5">c</tspan><tspan dy="-2">=1.5GeV</tspan></text><text transform="translate(185.8,68.6) rotate(25.5)" font-size="8.6">μ<tspan dy="2" font-size="5.5">c</tspan><tspan dy="-2">=1.2 GeV</tspan></text><text transform="translate(234.2,25.6) rotate(12.5)" font-size="8.5">μ<tspan dy="2" font-size="5.5">c</tspan><tspan dy="-2">=1.125GeV</tspan></text></g>
<path d="M331.2 83.1L283 48M283 48l3.6 0.6M283 48l1.6 3.2" stroke="#222" stroke-width="0.7" fill="none"/><path d="M192.4 216.2L93.5 241.5M93.5 241.5l3 -2.2M93.5 241.5l3.6 0.8" stroke="#222" stroke-width="0.7" fill="none"/>
</svg>
</body></html>
